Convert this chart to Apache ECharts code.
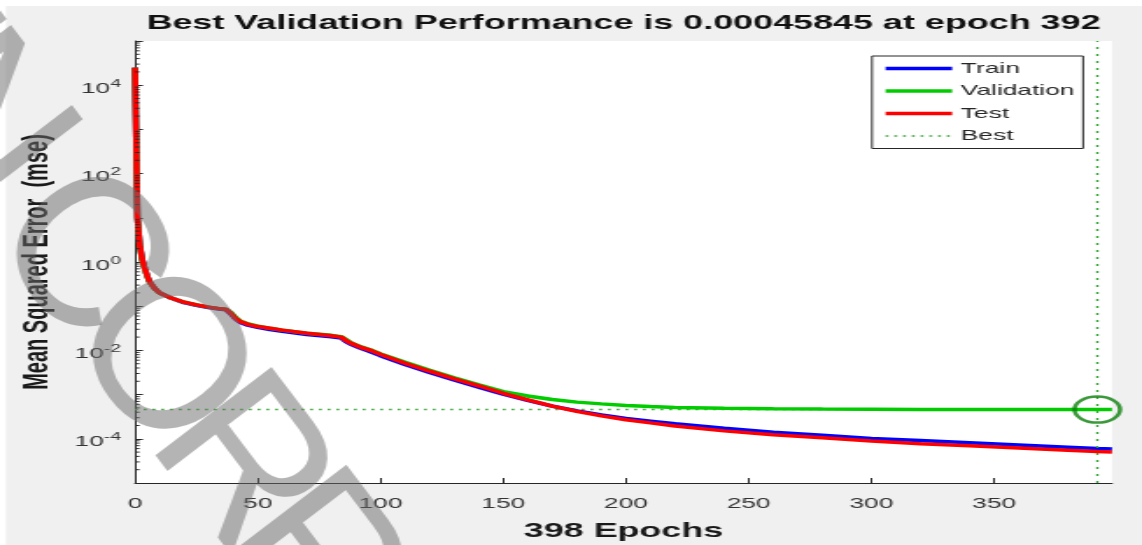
<!DOCTYPE html>
<html>
<head>
<meta charset="utf-8">
<script src="https://cdn.jsdelivr.net/npm/echarts@6/dist/echarts.min.js"></script>
<style>
html,body{margin:0;padding:0;background:#fff;width:1142px;height:545px;overflow:hidden}
#chart{position:absolute;left:0;top:0;width:652px;height:545px;transform:scaleX(1.751534);transform-origin:0 0}
</style>
</head>
<body>
<div id="chart"></div>
<script>
// ---------------- data ----------------
const epochs = [0,1,2,3,4,5,6,8,10,15,20,25,30,35,37,39,41,43,46,50,55,60,70,80,84,86,88,92,96,100,110,120,130,140,150,160,170,180,190,200,210,220,240,260,280,300,320,340,360,380,392,398];
const trainMse = [2.5e4,10,2.24,1.12,0.708,0.479,0.355,0.251,0.200,0.151,0.120,0.105,0.0933,0.0851,0.0832,0.0676,0.0513,0.0427,0.0372,0.0331,0.0295,0.0269,0.0229,0.0204,0.0191,0.0158,0.0138,0.0112,0.00933,0.00759,0.00478,0.00316,0.00214,0.00148,0.00102,0.000741,0.000550,0.000427,0.000347,0.000288,0.000251,0.000219,0.000174,0.000141,0.000120,1.02e-4,9.12e-5,8.13e-5,7.24e-5,6.46e-5,6.03e-5,5.89e-5];
const validationMse = [2.5e4,10,2.14,1.05,0.676,0.468,0.347,0.251,0.200,0.151,0.123,0.107,0.0955,0.0871,0.0851,0.0724,0.0550,0.0457,0.0398,0.0355,0.0316,0.0288,0.0245,0.0219,0.0204,0.0174,0.0148,0.0120,0.0102,0.00832,0.00537,0.00355,0.00240,0.00166,0.00117,0.000933,0.000776,0.000676,0.000617,0.000569,0.000537,0.000513,0.000490,0.000479,0.000470,0.000466,0.000462,0.000460,0.000459,0.0004586,0.00045845,0.0004586];
const testMse = [2.5e4,10,2.24,1.12,0.708,0.479,0.355,0.251,0.200,0.151,0.123,0.107,0.0955,0.0871,0.0851,0.0692,0.0525,0.0447,0.0389,0.0347,0.0316,0.0288,0.0245,0.0214,0.0200,0.0166,0.0145,0.0117,0.0100,0.00813,0.00513,0.00339,0.00229,0.00158,0.00107,0.000759,0.000550,0.000417,0.000331,0.000269,0.000229,0.000195,0.000151,0.000123,0.000105,8.91e-5,7.76e-5,6.92e-5,6.17e-5,5.50e-5,5.13e-5,5.01e-5];
const bestEpoch = 392;
const bestPerf = 0.00045845;
const maxEpoch = 398;
const xTickValues = [0,50,100,150,200,250,300,350];
const yLabelValues = [1e-4,1e-2,1,1e2,1e4];
const yDecadeValues = [1e-5,1e-4,1e-3,1e-2,1e-1,1,1e1,1e2,1e3,1e4,1e5];
const seriesNames = ['Train','Validation','Test','Best'];
const titleText = 'Best Validation Performance is 0.00045845 at epoch 392';
const xName = '398 Epochs';
const yName = 'Mean Squared Error  (mse)';
const watermarkText = 'UNCORRECTED PROOF';

// ---------------- layout helpers ----------------
const S = 1142 / 652;            // horizontal stretch of the picture
const sx = px => px / S;         // convert picture x to chart x
const FONT = '"Liberation Sans", Arial, Helvetica, sans-serif';
const yMinorTickValues = [];
for (let i = 0; i < yDecadeValues.length - 1; i++) {
  for (let k = 2; k <= 9; k++) yMinorTickValues.push(k * yDecadeValues[i]);
}
const pairs = arr => epochs.map((e, i) => [e, arr[i]]);

// watermark letters placed along a diagonal (picture pixels, unstretched)
const wmAngle = 52.7 * Math.PI / 180;
const wmDir = [Math.cos(wmAngle), Math.sin(wmAngle)];
const wmAnchor = [158, 362];     // reference point for the "O"
const wmLetterOffsets = [-425, -298, -132, 0, 132, 255, 376, 498, 614, 730, 850, 950, 1040, 1160, 1290, 1420, 1540];
const wmLetters = watermarkText.split('').map((ch, i) => ({
  type: 'text', silent: true, z: 100,
  x: wmAnchor[0] + wmLetterOffsets[i] * wmDir[0],
  y: wmAnchor[1] + wmLetterOffsets[i] * wmDir[1],
  rotation: -wmAngle,
  style: {text: ch, font: 'normal 212px ' + FONT, fill: 'rgba(105,105,105,0.5)',
          align: 'center', verticalAlign: 'middle', textAlign: 'center', textVerticalAlign: 'middle'}
}));

const chart = echarts.init(document.getElementById('chart'), null, {renderer: 'canvas'});
const gridLeft = sx(135), gridRight = 652 - sx(1112);

const legendItem = (name, w) => ({name: name, itemStyle: {opacity: 0}, lineStyle: {width: w}});

chart.setOption({
  animation: false,
  backgroundColor: '#ffffff',
  textStyle: {fontFamily: FONT},
  grid: {show: true, backgroundColor: '#ffffff', borderWidth: 0, left: gridLeft, right: gridRight, top: 41, bottom: 62,
         containLabel: false, outerBoundsMode: 'none'},
  legend: {
    data: [legendItem(seriesNames[0], 3.5), legendItem(seriesNames[1], 3.5), legendItem(seriesNames[2], 3.5), legendItem(seriesNames[3], 1.6)],
    orient: 'vertical', left: sx(872), top: 56,
    backgroundColor: '#ffffff', borderColor: '#262626', borderWidth: 1, borderRadius: 0,
    padding: [5, 5, 5, 6], itemGap: 7.5, itemWidth: 38, itemHeight: 14,
    itemStyle: {opacity: 0},
    textStyle: {fontSize: 15, color: '#262626', fontFamily: FONT}
  },
  xAxis: {
    type: 'value', min: 0, max: maxEpoch,
    name: xName, nameLocation: 'middle', nameGap: 38,
    nameTextStyle: {fontSize: 20.5, fontWeight: 'bold', color: '#1a1a1a', fontFamily: FONT},
    axisLine: {show: true, lineStyle: {color: '#262626', width: 1}},
    axisTick: {show: true, inside: true, length: 5, customValues: xTickValues, lineStyle: {color: '#262626'}},
    axisLabel: {customValues: xTickValues, margin: 13, fontSize: 15, color: '#333333', fontFamily: FONT},
    splitLine: {show: false}
  },
  yAxis: {
    type: 'log', logBase: 10, min: 1e-5, max: 1e5,
    name: yName, nameLocation: 'middle', nameGap: 44,
    nameTextStyle: {fontSize: 20, fontWeight: 'bold', color: '#1a1a1a', fontFamily: FONT},
    axisLine: {show: true, lineStyle: {color: '#262626', width: 1}},
    axisTick: {show: true, inside: true, length: 4.5, customValues: yDecadeValues, lineStyle: {color: '#262626'}},
    axisLabel: {
      customValues: yLabelValues, margin: 8, color: '#333333', fontFamily: FONT,
      formatter: v => '{b|10}{s|' + Math.round(Math.log10(v)) + '}',
      rich: {
        b: {fontSize: 15, color: '#333333', fontFamily: FONT, padding: [7, 0, 0, 0]},
        s: {fontSize: 11, color: '#333333', fontFamily: FONT, padding: [0, 0, 3, 0]}
      }
    },
    splitLine: {show: false}, minorTick: {show: false}
  },
  graphic: [
    {type: 'rect', z: -10, silent: true, shape: {x: sx(6), y: 6, width: 660, height: 560}, style: {fill: '#f0f0f0'}},
    {type: 'text', z: 10, silent: true, x: (gridLeft + 652 - gridRight) / 2, y: 23.5,
     style: {text: titleText, font: 'bold 20.5px ' + FONT, fill: '#111111', textAlign: 'center', textVerticalAlign: 'middle'}},
    {type: 'group', z: 100, silent: true, scaleX: 1 / S, children: wmLetters}
  ],
  series: [
    {name: 'Train', type: 'line', data: pairs(trainMse), symbol: 'none', showSymbol: false, z: 3,
     lineStyle: {color: '#0000ff', width: 3.5}, itemStyle: {color: '#0000ff'}},
    {name: 'Validation', type: 'line', data: pairs(validationMse), symbol: 'none', showSymbol: false, z: 4,
     lineStyle: {color: '#00cc00', width: 3.5}, itemStyle: {color: '#00cc00'}},
    {name: 'Test', type: 'line', data: pairs(testMse), symbol: 'none', showSymbol: false, z: 5,
     lineStyle: {color: '#ff0000', width: 3.5}, itemStyle: {color: '#ff0000'}},
    {name: 'Best', type: 'line', data: [[0, bestPerf], [maxEpoch, bestPerf]], symbol: 'none', showSymbol: false, z: 2,
     lineStyle: {color: '#33a833', width: 1.6, type: [1.6, 3.4]}, itemStyle: {color: '#33a833'},
     markLine: {silent: true, symbol: 'none', label: {show: false},
       lineStyle: {color: '#33a833', width: 1.3, type: [2, 5]}, data: [{xAxis: bestEpoch}]}},
    {name: 'BestPoint', type: 'scatter', data: [[bestEpoch, bestPerf]], symbol: 'circle', symbolSize: 26, z: 6,
     itemStyle: {color: 'rgba(0,0,0,0)', borderColor: '#0a800a', borderWidth: 2.5}, silent: true},
    {name: 'minorTicks', type: 'custom', silent: true, z: 7, data: yMinorTickValues.map(v => [0, v]),
     renderItem: (params, api) => {
       const p = api.coord([0, api.value(1)]);
       return {type: 'line', shape: {x1: p[0], y1: p[1], x2: p[0] + 2.6, y2: p[1]}, style: {stroke: '#262626', lineWidth: 1}};
     }}
  ]
});
</script>
</body>
</html>
